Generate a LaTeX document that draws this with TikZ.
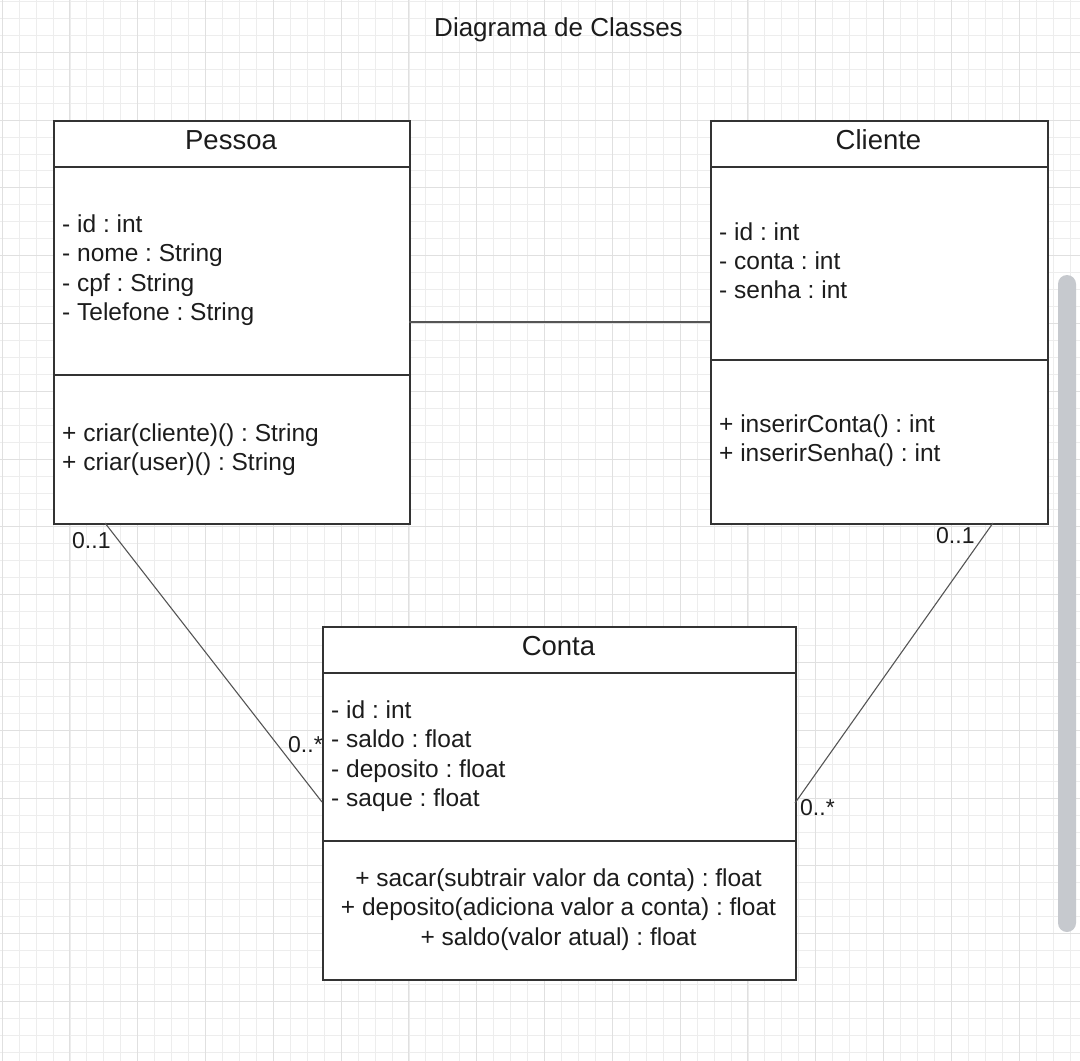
\documentclass[tikz,border=0pt]{standalone}
\usepackage{fontspec}
\setmainfont{Liberation Sans}
\frenchspacing
\definecolor{gridminor}{HTML}{EDEDED}
\definecolor{gridmajor}{HTML}{E0E0E0}
\definecolor{boxcol}{HTML}{333333}
\definecolor{linkcol}{HTML}{555555}
\definecolor{txtcol}{HTML}{1C1C1C}
\definecolor{scrollcol}{HTML}{C6C9CE}
\newcommand{\bodyfont}{\fontsize{24.5}{29.4}\selectfont}
\newcommand{\headfont}{\fontsize{27.5}{33}\selectfont}
\newcommand{\titlefont}{\fontsize{26}{31}\selectfont}
\newcommand{\multfont}{\fontsize{23}{27}\selectfont}
\begin{document}
\begin{tikzpicture}[x=1pt,y=-1pt,
  classbox/.style={draw=boxcol, line width=1.8pt, fill=white, rectangle, inner sep=0pt, anchor=north west},
  sepline/.style={draw=boxcol, line width=1.8pt},
  link/.style={draw=linkcol, line width=1.1pt},
  txt/.style={inner sep=0pt, text=txtcol, font=\bodyfont},
  attr/.style={txt, align=left, anchor=base west},
  head/.style={inner sep=0pt, text=txtcol, font=\headfont, anchor=base},
  mult/.style={inner sep=0pt, text=txtcol, font=\multfont, anchor=base west}]
\useasboundingbox (0,0) rectangle (1080,1061);
\fill[white] (0,0) rectangle (1080,1061);
% grid
\foreach \i in {0,...,63} {\draw[gridminor, line width=0.9pt] ({2.15+16.95*\i},0) -- ({2.15+16.95*\i},1061);}
\foreach \k in {0,...,62} {\draw[gridminor, line width=0.9pt] (0,{1.4+16.95*\k}) -- (1080,{1.4+16.95*\k});}
\foreach \m in {0,...,15} {\draw[gridmajor, line width=1pt] ({2.15+67.8*\m},0) -- ({2.15+67.8*\m},1061);}
\foreach \m in {0,...,15} {\draw[gridmajor, line width=1pt] (0,{52.25+67.8*\m}) -- (1080,{52.25+67.8*\m});}
% scrollbar
\fill[scrollcol, rounded corners=9pt] (1058,275) rectangle (1076,932);
% title
\node[inner sep=0pt, text=txtcol, font=\titlefont, anchor=base] (title) at (558.5,36.7) {Diagrama de Classes};
% Pessoa
\node[classbox, minimum width=356pt, minimum height=403pt] (pessoa) at (53,120) {};
\draw[sepline] (53,167) -- (409,167);
\draw[sepline] (53,375) -- (409,375);
\node[head] (pessoaname) at (231,149.3) {Pessoa};
\node[attr] (pessoaattr) at (62,320.5) {- id : int\\- nome : String\\- cpf : String\\- Telefone : String};
\node[attr] (pessoameth) at (62,470.4) {+ criar(cliente)() : String\\+ criar(user)() : String};
% Cliente
\node[classbox, minimum width=337pt, minimum height=403pt] (cliente) at (710,120) {};
\draw[sepline] (710,167) -- (1047,167);
\draw[sepline] (710,360) -- (1047,360);
\node[head] (clientename) at (878.5,149.3) {Cliente};
\node[attr] (clienteattr) at (719,298.8) {- id : int\\- conta : int\\- senha : int};
\node[attr] (clientemeth) at (719,461.4) {+ inserirConta() : int\\+ inserirSenha() : int};
% Conta
\node[classbox, minimum width=473pt, minimum height=353pt] (conta) at (322,626) {};
\draw[sepline] (322,673) -- (795,673);
\draw[sepline] (322,841) -- (795,841);
\node[head] (contaname) at (558.5,655.5) {Conta};
\node[attr] (contaattr) at (331,806.7) {- id : int\\- saldo : float\\- deposito : float\\- saque : float};
\node[txt, align=center, anchor=base] (contameth) at (558.5,945.3) {+ sacar(subtrair valor da conta) : float\\+ deposito(adiciona valor a conta) : float\\+ saldo(valor atual) : float};
% connector end points
\coordinate (pc1) at (409,322);
\coordinate (pc2) at (710,322);
\coordinate (pk1) at (105,523);
\coordinate (pk2) at (322,802);
\coordinate (ck1) at (993,523);
\coordinate (ck2) at (795,803);
\draw[link] (pc1) -- (pc2);
\draw[link] (pk1) -- (pk2);
\draw[link] (ck1) -- (ck2);
% multiplicities
\node[mult] (m1) at (72,548) {0..1};
\node[mult] (m2) at (288,752) {0..*};
\node[mult] (m3) at (936,543) {0..1};
\node[mult] (m4) at (800,815) {0..*};
\end{tikzpicture}
\end{document}
